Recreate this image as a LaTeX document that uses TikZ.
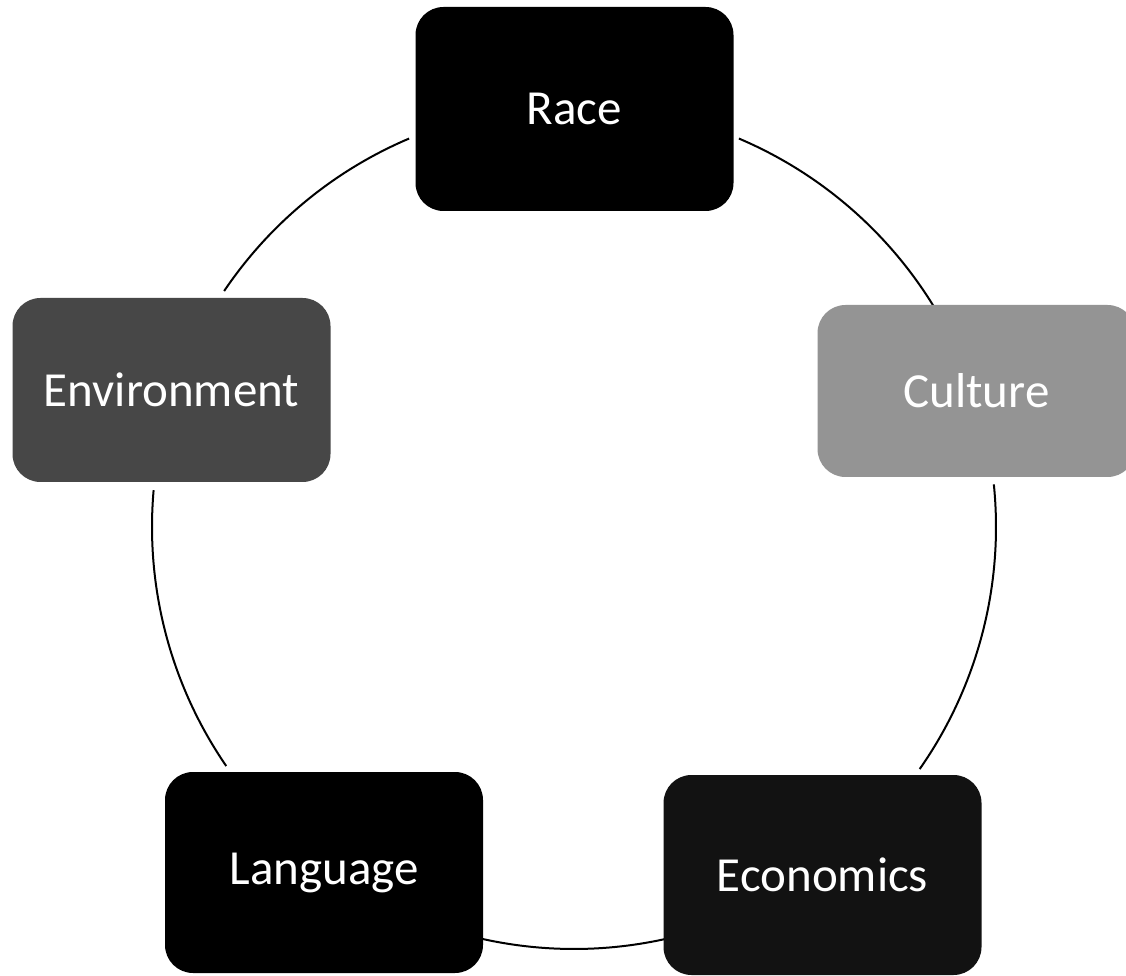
\documentclass[tikz,border=0pt]{standalone}
\usepackage{fontspec}
\setmainfont{Carlito}
\begin{document}
\begin{tikzpicture}[x=1pt,y=1pt,
  box/.style={rectangle, rounded corners=28pt, minimum width=318pt, inner sep=0pt,
    text=white, font=\fontsize{49}{54}\selectfont},
  ring/.style={line width=2pt, draw=black}]
\useasboundingbox[fill=white] (0,0) rectangle (1126,975);
\coordinate (c) at (574,448);
\draw[ring] (c) ++(113:422) arc[start angle=113, end angle=146, radius=422];
\draw[ring] (c) ++(175:422) arc[start angle=175, end angle=214.5, radius=422];
\draw[ring] (c) ++(256.5:422) arc[start angle=256.5, end angle=283.2, radius=422];
\draw[ring] (c) ++(325:422) arc[start angle=325, end angle=365.8, radius=422];
\draw[ring] (c) ++(30.7:422) arc[start angle=30.7, end angle=67, radius=422];
\node[box, fill=black, minimum height=204pt] (race) at (574.5,866) {Race};
\node[box, fill=black!42, minimum height=172pt] (culture) at (976.5,584) {Culture};
\node[box, fill=black!72, minimum height=184pt] (env) at (171.5,585) {Environment};
\node[box, fill=black, minimum height=201pt] (lang) at (324,102.5) {Language};
\node[box, fill=black!93, minimum height=200pt] (econ) at (822.5,100) {Economics};
\end{tikzpicture}
\end{document}
